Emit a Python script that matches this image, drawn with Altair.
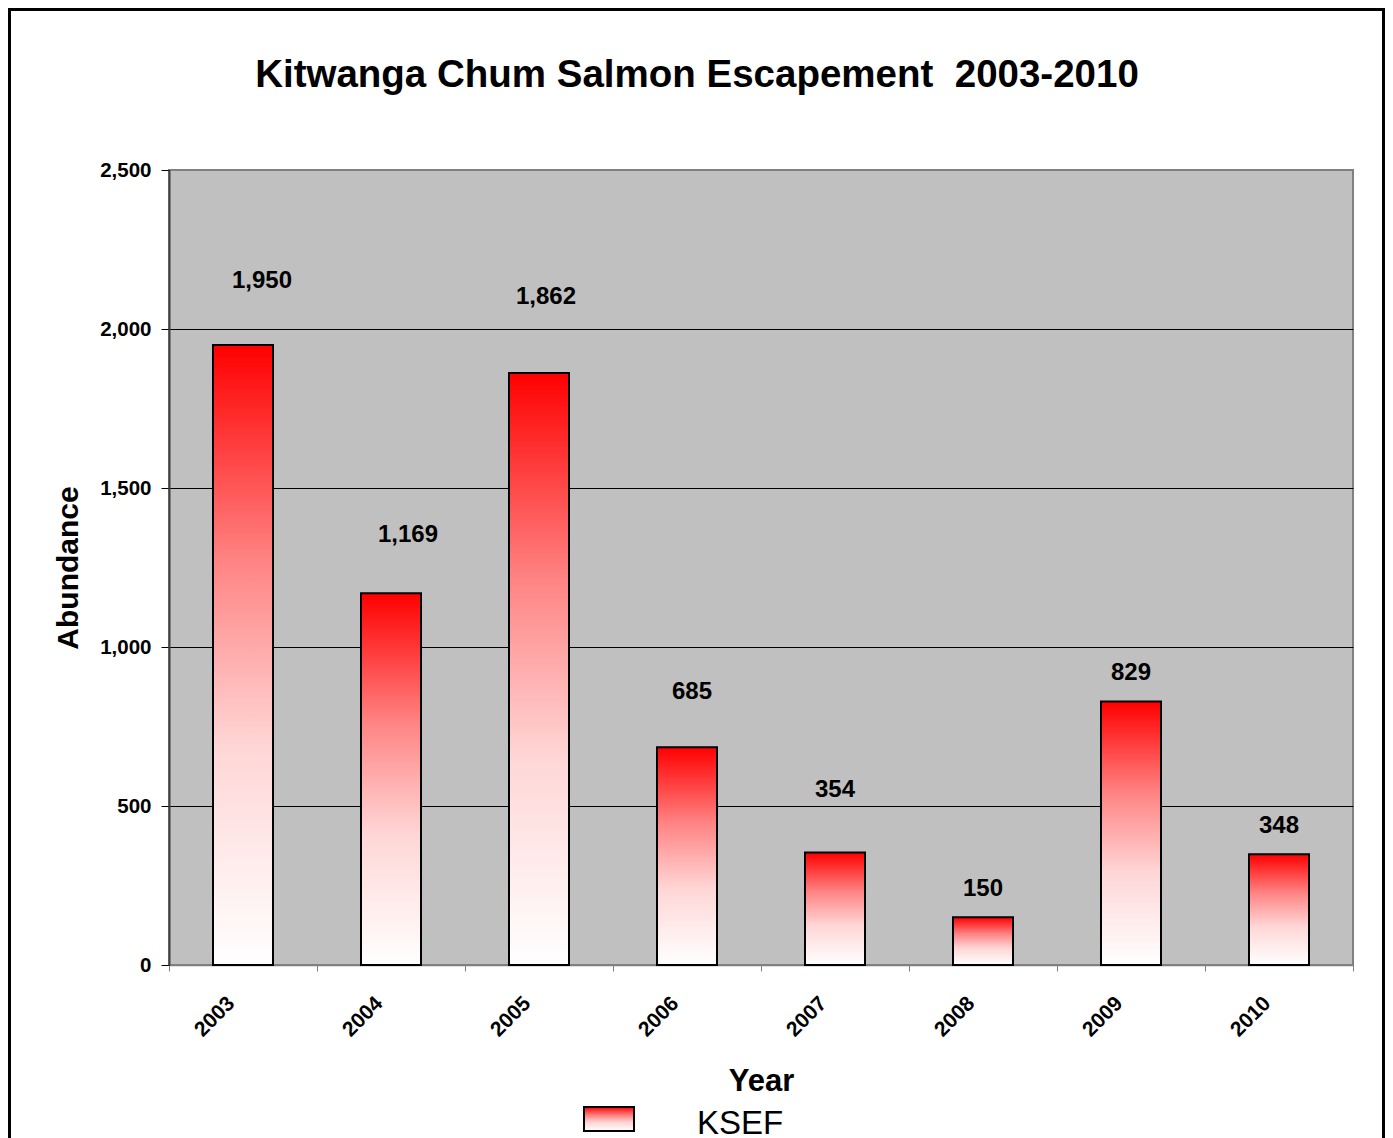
import altair as alt
import pandas as pd

# ---- data ----
years = ["2003", "2004", "2005", "2006", "2007", "2008", "2009", "2010"]
abundance = [1950, 1169, 1862, 685, 354, 150, 829, 348]
y_ticks = [0, 500, 1000, 1500, 2000, 2500]
series_name = ["KSEF"]
chart_title = "Kitwanga Chum Salmon Escapement\u00a0 2003-2010"

# ---- layout (label placement, in pixels) ----
label_gap_px = [64, 58, 76, 55, 62, 28, 28, 28]
label_dx_px = [19, 17, 7, 5, 0, 0, 0, 0]

W, H = 1184, 795
YMAX = 2500
STEP = W / len(years)
FONT = "Liberation Sans"

df = pd.DataFrame({"year": years, "abundance": abundance,
                   "gap": label_gap_px, "dx": label_dx_px})

grad = alt.LinearGradient(
    gradient="linear", x1=0, x2=0, y1=0, y2=1,
    stops=[
        alt.GradientStop(color="#FF0000", offset=0),
        alt.GradientStop(color="#FF8484", offset=0.35),
        alt.GradientStop(color="#FFD6D6", offset=0.65),
        alt.GradientStop(color="#FFFFFF", offset=1),
    ],
)

x_scale = alt.Scale(domain=years, paddingInner=0, paddingOuter=0)
x_axis = alt.Axis(
    title="Year", labelAngle=-45, labelAlign="right", labelBaseline="middle",
    labelFont=FONT, labelFontSize=21, labelFontWeight="bold", labelColor="black",
    labelPadding=29, labelOffset=-12, tickBand="extent", tickSize=6,
    tickColor="#808080", domainColor="#808080", domainWidth=1.5,
    titleFont=FONT, titleFontSize=31, titleFontWeight="bold", titleColor="black",
    titleX=W / 2, titleY=125, titleBaseline="alphabetic", titleAlign="center",
)

y_scale = alt.Scale(domain=[0, YMAX], nice=False)
y_axis = alt.Axis(
    values=y_ticks, format=",.0f", title="Abundance", grid=True,
    gridColor={"condition": {"test": "datum.value == 2500", "value": "#808080"}, "value": "black"},
    gridWidth=1, tickSize=8, tickColor="black", domainColor="#404040", domainWidth=2,
    labelPadding=10, labelFont=FONT, labelFontSize=20.5, labelFontWeight="bold",
    labelColor="black",
    titleFont=FONT, titleFontSize=30, titleFontWeight="bold", titleColor="black",
    titleAngle=-90, titleX=-92, titleY=H / 2, titleBaseline="alphabetic",
    titleAlign="center",
)

base = alt.Chart(df)

bars = base.mark_bar(fill=grad, stroke="black", strokeWidth=2,
                     width=alt.RelativeBandSize(60 / STEP)).encode(
    x=alt.X("year:N", scale=x_scale, axis=x_axis),
    y=alt.Y("abundance:Q", scale=y_scale, axis=y_axis),
)

labels = base.transform_calculate(
    label_y=f"datum.abundance + datum.gap * {YMAX} / {H}",
    label_x=f"datum.dx + {STEP / 2}",
).mark_text(font=FONT, fontSize=24, fontWeight="bold", color="black",
            baseline="middle", align="center").encode(
    x=alt.X("year:N", scale=x_scale, axis=x_axis),
    xOffset=alt.XOffset("label_x:Q", scale=None),
    y=alt.Y("label_y:Q", scale=y_scale, axis=y_axis),
    text=alt.Text("abundance:Q", format=","),
)

legend_df = pd.DataFrame({"series": series_name})
legend_rect = alt.Chart(legend_df).mark_rect(fill=grad, stroke="black", strokeWidth=2).encode(
    x=alt.value(415), x2=alt.value(465), y=alt.value(937), y2=alt.value(961)
)
legend_text = alt.Chart(legend_df).mark_text(
    font=FONT, fontSize=33, color="black", align="left", baseline="alphabetic"
).encode(x=alt.value(528), y=alt.value(964), text="series:N")

border = alt.Chart(legend_df).mark_rect(fillOpacity=0, stroke="black", strokeWidth=3).encode(
    x=alt.value(-159.5), x2=alt.value(1214.5), y=alt.value(-160.5), y2=alt.value(1100)
)

chart = alt.layer(border, bars, labels, legend_rect, legend_text).properties(
    width=W, height=H,
    padding={"left": 161, "top": 162, "right": 32, "bottom": 173},
    autosize=alt.AutoSizeParams(type="none"),
    title=alt.Title(chart_title, font=FONT, fontSize=38.5, fontWeight="bold", color="black",
                    anchor="middle", frame="group", dx=-64, offset=-117, baseline="alphabetic"),
).configure(background="white").configure_view(fill="#C0C0C0", stroke="#808080", strokeWidth=2)

chart.save("out.html", embed_options={"renderer": "svg", "actions": False})
